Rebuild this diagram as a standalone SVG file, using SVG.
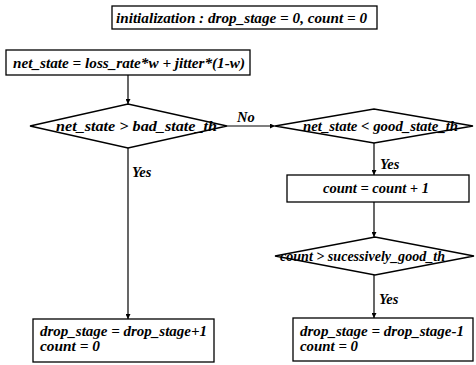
<svg xmlns="http://www.w3.org/2000/svg" width="476" height="365" viewBox="0 0 476 365">
<defs>
<style>
.box{fill:#fff;stroke:#000;stroke-width:1.3}
.t{font-family:"Liberation Serif","Times New Roman",serif;font-weight:bold;font-style:italic;font-size:14.5px;fill:#000}
.c{fill:none;stroke:#000;stroke-width:1.2}
</style>
<marker id="ah" viewBox="0 0 6 6" refX="6" refY="3" markerWidth="5" markerHeight="5" orient="auto" markerUnits="userSpaceOnUse">
<path d="M0,0 L6,3 L0,6 z" fill="#000"/>
</marker>
</defs>
<rect width="476" height="365" fill="#fff"/>
<g id="connectors">
<line class="c" x1="128" y1="75" x2="128" y2="104" marker-end="url(#ah)"/>
<line class="c" x1="227" y1="126" x2="275" y2="126" marker-end="url(#ah)"/>
<line class="c" x1="128" y1="148" x2="128" y2="319" marker-end="url(#ah)"/>
<line class="c" x1="374" y1="143" x2="374" y2="175" marker-end="url(#ah)"/>
<line class="c" x1="374" y1="202" x2="374" y2="237" marker-end="url(#ah)"/>
<line class="c" x1="374" y1="275" x2="374" y2="318" marker-end="url(#ah)"/>
<text class="t" x="237" y="122">No</text>
<text class="t" x="132" y="177">Yes</text>
<text class="t" x="380" y="169">Yes</text>
<text class="t" x="379" y="304">Yes</text>
</g>
<g id="init">
<rect class="box" x="112" y="6" width="265" height="23"/>
<text class="t" x="116" y="22.5" textLength="251" lengthAdjust="spacingAndGlyphs">initialization : drop_stage = 0, count = 0</text>
</g>
<g id="netstate">
<rect class="box" x="6" y="50" width="244" height="25"/>
<text class="t" x="13" y="67.5" textLength="232" lengthAdjust="spacingAndGlyphs">net_state = loss_rate*w + jitter*(1-w)</text>
</g>
<g id="bad">
<polygon class="box" points="30,126 128,104 227,126 128,148"/>
<text class="t" x="56" y="131" textLength="161" lengthAdjust="spacingAndGlyphs">net_state &gt; bad_state_th</text>
</g>
<g id="good">
<polygon class="box" points="275,126 374,109 473,126 374,143"/>
<text class="t" x="303" y="131" textLength="155" lengthAdjust="spacingAndGlyphs">net_state &lt; good_state_th</text>
</g>
<g id="countinc">
<rect class="box" x="287" y="175" width="182" height="27"/>
<text class="t" x="376" y="193" text-anchor="middle" textLength="106" lengthAdjust="spacingAndGlyphs">count = count + 1</text>
</g>
<g id="succ">
<polygon class="box" points="275,256 375,237 474,256 375,275"/>
<text class="t" x="280" y="261" textLength="165" lengthAdjust="spacingAndGlyphs">count &gt; sucessively_good_th</text>
</g>
<g id="dropinc">
<rect class="box" x="33" y="319" width="181" height="43"/>
<text class="t" x="40" y="336" textLength="167" lengthAdjust="spacingAndGlyphs">drop_stage = drop_stage+1</text>
<text class="t" x="40" y="351" textLength="60" lengthAdjust="spacingAndGlyphs">count = 0</text>
</g>
<g id="dropdec">
<rect class="box" x="293" y="318" width="180" height="43"/>
<text class="t" x="300" y="336" textLength="164" lengthAdjust="spacingAndGlyphs">drop_stage = drop_stage-1</text>
<text class="t" x="300" y="351" textLength="58" lengthAdjust="spacingAndGlyphs">count = 0</text>
</g>
</svg>
